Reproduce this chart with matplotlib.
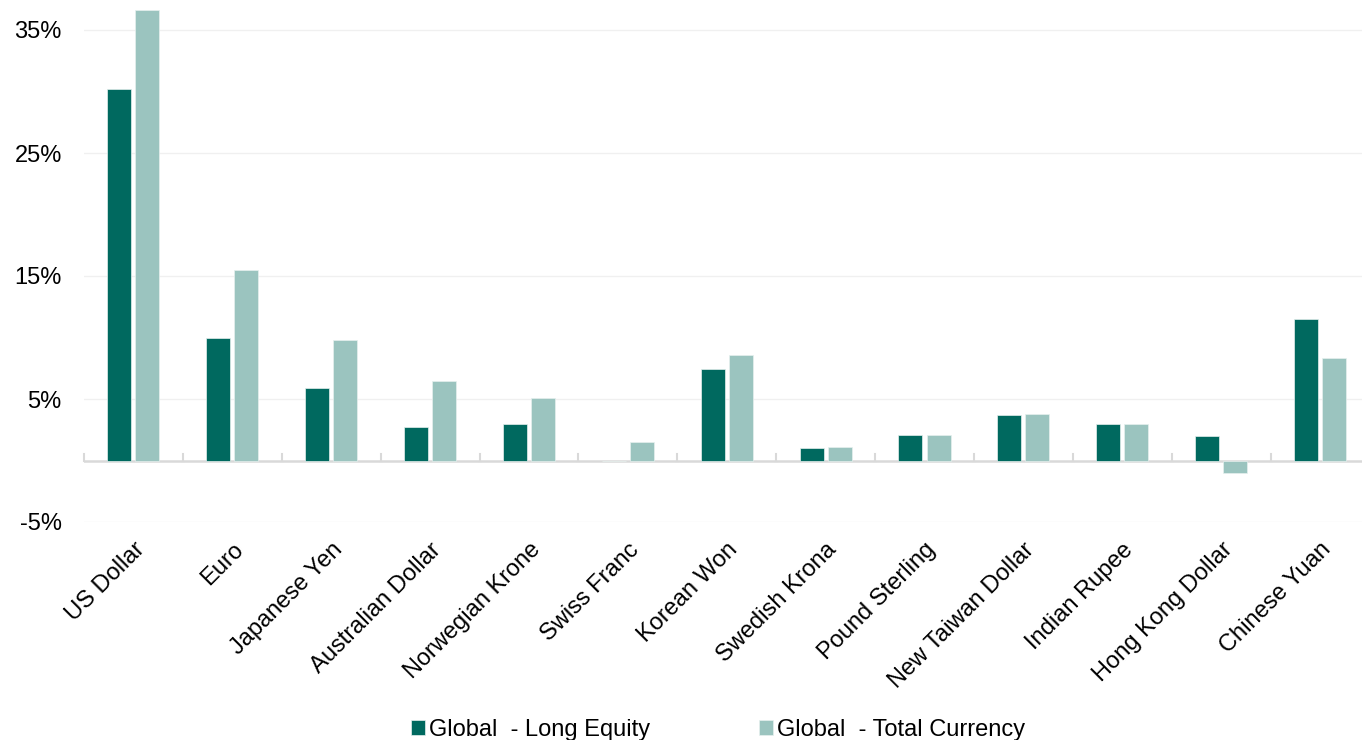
import matplotlib.pyplot as plt
import numpy as np

plt.rcParams['font.family'] = ['Liberation Sans', 'DejaVu Sans']

categories = ["US Dollar", "Euro", "Japanese Yen", "Australian Dollar", "Norwegian Krone",
              "Swiss Franc", "Korean Won", "Swedish Krona", "Pound Sterling",
              "New Taiwan Dollar", "Indian Rupee", "Hong Kong Dollar", "Chinese Yuan"]
long_equity = [30.2, 10.0, 5.9, 2.7, 3.0, 0.0, 7.4, 1.05, 2.1, 3.7, 3.0, 2.0, 11.5]
total_currency = [36.6, 15.5, 9.8, 6.5, 5.1, 1.5, 8.6, 1.1, 2.1, 3.75, 3.0, -1.05, 8.3]
y_ticks = [-5, 5, 15, 25, 35]
y_labels = ["-5%", "5%", "15%", "25%", "35%"]

dark = "#00695f"
light = "#9bc4bf"

fig = plt.figure(figsize=(13.62, 7.40), dpi=100)
ax = fig.add_axes([84 / 1362, 1 - 522 / 740, (1369.5 - 84) / 1362, (522 - 5.4) / 740])

x = np.arange(len(categories))
w = 0.243
ax.bar(x - 0.142, long_equity, w, color=dark, edgecolor="#e6f0ee", linewidth=0.5,
       label="Global  - Long Equity", zorder=3)
ax.bar(x + 0.142, total_currency, w, color=light, edgecolor="#e6f0ee", linewidth=0.5,
       label="Global  - Total Currency", zorder=3)

ax.set_xlim(-0.5, len(categories) - 0.5)
ax.set_ylim(-5, 37)
ax.set_yticks(y_ticks)
ax.set_yticklabels(y_labels, fontsize=17)
ax.tick_params(axis='y', length=0, pad=16)
ax.yaxis.grid(True, color="#f0f0f0", linewidth=1)
ax.set_axisbelow(True)

for s in ax.spines.values():
    s.set_visible(False)
ax.axhline(0, color="#d9d9d9", linewidth=1.8, zorder=2)

# category boundary ticks on the zero line
for b in np.arange(-0.5, len(categories), 1.0):
    ax.plot([b, b], [0, 0.5], color="#d9d9d9", linewidth=1.5, zorder=2, clip_on=False)

ax.set_xticks(x)
ax.set_xticklabels(categories, rotation=45, ha="right", rotation_mode="anchor", fontsize=17)
ax.tick_params(axis='x', length=0, pad=12)

fig.legend(loc="lower center", bbox_to_anchor=(0.527, -0.03), ncol=2, frameon=False,
           fontsize=17, handlelength=0.6, handleheight=0.6, handletextpad=0.17,
           columnspacing=4.6)

fig.savefig("out.png", dpi=100)
